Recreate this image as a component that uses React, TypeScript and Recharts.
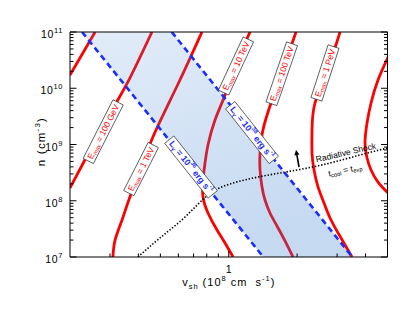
import { Area, ComposedChart, Line, ReferenceDot, ReferenceLine, XAxis, YAxis } from 'recharts'

const emax10GeV = [
  { v: 0.258, n: 1e11 },
  { v: 0.2, n: 1.72e10 },
]
const emax100GeV = [
  { v: 0.459, n: 1e11 },
  { v: 0.367, n: 1.52e10 },
  { v: 0.303, n: 3.78e9 },
  { v: 0.235, n: 5.75e8 },
  { v: 0.2, n: 1.69e8 },
]
const emax1TeV = [
  { v: 0.762, n: 1e11 },
  { v: 0.598, n: 1.19e10 },
  { v: 0.474, n: 1.67e9 },
  { v: 0.415, n: 4.32e8 },
  { v: 0.367, n: 1.17e8 },
  { v: 0.339, n: 4.55e7 },
  { v: 0.316, n: 2.01e7 },
  { v: 0.309, n: 1e7 },
]
const emax10TeV = [
  { v: 1.241, n: 1e11 },
  { v: 1.076, n: 2.7e10 },
  { v: 0.963, n: 7.59e9 },
  { v: 0.87, n: 2.73e9 },
  { v: 0.81, n: 9.8e8 },
  { v: 0.786, n: 4.69e8 },
  { v: 0.77, n: 2.34e8 },
  { v: 0.77, n: 1.17e8 },
  { v: 0.81, n: 6.06e7 },
  { v: 0.888, n: 3.02e7 },
  { v: 0.963, n: 1.77e7 },
  { v: 1.044, n: 1e7 },
]
const emax100TeV = [
  { v: 1.978, n: 1e11 },
  { v: 1.716, n: 1.95e10 },
  { v: 1.489, n: 3.78e9 },
  { v: 1.401, n: 1.48e9 },
  { v: 1.373, n: 7.06e8 },
  { v: 1.373, n: 3.52e8 },
  { v: 1.401, n: 1.76e8 },
  { v: 1.444, n: 1.03e8 },
  { v: 1.519, n: 6.06e7 },
  { v: 1.631, n: 3.56e7 },
  { v: 1.769, n: 1.93e7 },
  { v: 1.918, n: 1e7 },
]
const emax1PeV = [
  { v: 3.09, n: 1e11 },
  { v: 2.736, n: 2.29e10 },
  { v: 2.398, n: 5.47e9 },
  { v: 2.326, n: 1.81e9 },
  { v: 2.326, n: 7.06e8 },
  { v: 2.374, n: 3.52e8 },
  { v: 2.472, n: 1.76e8 },
  { v: 2.627, n: 9.12e7 },
  { v: 2.82, n: 4.55e7 },
  { v: 3.121, n: 2.18e7 },
  { v: 3.489, n: 1e7 },
]
const emax10PeV = [
  { v: 5.03, n: 3.59e10 },
  { v: 4.542, n: 1.4e10 },
  { v: 4.231, n: 5.47e9 },
  { v: 4.063, n: 2.41e9 },
  { v: 3.981, n: 1.06e9 },
  { v: 4.063, n: 5.75e8 },
  { v: 4.231, n: 3.52e8 },
  { v: 4.542, n: 2.15e8 },
  { v: 5.03, n: 1.37e8 },
]

// gamma-ray luminosity lines
const lum36 = [
  { v: 0.226, n: 1e11 },
  { v: 1.42, n: 1e7 },
]
const lum38 = [
  { v: 0.561, n: 1e11 },
  { v: 3.5, n: 1e7 },
]
// shaded strip between the two luminosity lines, [low, high] density at each v
const bandRows = [
  { v: 0.226, band: [1e11, 1e11] },
  { v: 0.561, band: [1.03e9, 1e11] },
  { v: 1.42, band: [1e7, 9.3e8] },
  { v: 3.5, band: [1e7, 1e7] },
]

// t_cool = t_exp
const coolingLine = [
  { v: 0.3985, n: 1e7 },
  { v: 0.498, n: 2.18e7 },
  { v: 0.642, n: 5.14e7 },
  { v: 0.802, n: 1.22e8 },
  { v: 1.013, n: 1.99e8 },
  { v: 1.415, n: 2.75e8 },
  { v: 1.998, n: 3.52e8 },
  { v: 2.792, n: 4.69e8 },
  { v: 3.784, n: 6.51e8 },
  { v: 5.0, n: 8.67e8 },
]

const energyLabels = [
  { text: '100 GeV', v: 0.28, n: 1.69e9 },
  { text: '1 TeV', v: 0.411, n: 3.66e8 },
  { text: '10 TeV', v: 1.076, n: 2.49e10 },
  { text: '100 TeV', v: 1.711, n: 1.81e10 },
  { text: '1 PeV', v: 2.653, n: 1.87e10 },
]
const lumLabels = [
  { exp: '36', v: 0.682, n: 3.98e8 },
  { exp: '38', v: 1.266, n: 1.63e9 },
]
const arrowFrom = { v: 2.039, n: 3.98e8 }
const arrowTo = { v: 1.978, n: 7.98e8 }
const shockTextAt = { v: 3.278, n: 7.21e8 }
const coolTextAt = { v: 3.251, n: 3.52e8 }

const xTicks = [0.3, 0.4, 0.5, 0.6, 0.7, 0.8, 0.9, 1, 2, 3, 4]
const xTickLabels = [1]
const yDecades = [1e7, 1e8, 1e9, 1e10, 1e11]
const yMinorSteps = [2, 3, 4, 5, 6, 7, 8, 9]
const yTicks = [...yDecades, ...yDecades.slice(0, 4).flatMap((d) => yMinorSteps.map((m) => m * d))]

const FONT = '"Liberation Sans", Arial, Helvetica, sans-serif'
const RED = '#ff0000'
const BLUE = '#1a2dff'
const energyAngles = [-63, -63, -65, -71, -72]
const lumAngle = 51.5

type Part = { t: string; k?: 'sub' | 'sup' }

let measureCtx: CanvasRenderingContext2D | null = null
function measureParts(parts: Part[], size: number, weight: string) {
  if (!measureCtx) measureCtx = document.createElement('canvas').getContext('2d')
  let w = 0
  for (const p of parts) {
    const fs = p.k ? size * 0.68 : size
    measureCtx!.font = `${weight} ${fs}px ${FONT}`
    w += measureCtx!.measureText(p.t).width
  }
  return w
}

function spans(parts: Part[], size: number) {
  let shift = 0
  return parts.map((p, i) => {
    const target = p.k === 'sub' ? size * 0.3 : p.k === 'sup' ? -size * 0.42 : 0
    const dy = target - shift
    shift = target
    return (
      <tspan key={i} dy={dy} fontSize={p.k ? size * 0.68 : size}>
        {p.t}
      </tspan>
    )
  })
}

function TagBox({ cx, cy, angle, parts, size, color, weight, boxed = true }: any) {
  const w = measureParts(parts, size, weight) + 6
  const h = size + 3
  return (
    <g transform={`translate(${cx},${cy}) rotate(${angle})`}>
      {boxed && <rect x={-w / 2} y={-h / 2} width={w} height={h} fill="#fff" stroke="#333" strokeWidth={0.7} />}
      <text
        x={0}
        y={0}
        textAnchor="middle"
        dominantBaseline="central"
        fill={color}
        fontWeight={weight}
        fontFamily={FONT}
        style={{ whiteSpace: 'pre' }}
      >
        {spans(parts, size)}
      </text>
    </g>
  )
}

function Arrow(p: any) {
  const { x1, y1, x2, y2 } = p
  const dx = x2 - x1
  const dy = y2 - y1
  const len = Math.hypot(dx, dy) || 1
  const ux = dx / len
  const uy = dy / len
  const bx = x2 - ux * 5
  const by = y2 - uy * 5
  return (
    <g>
      <line x1={x1} y1={y1} x2={bx} y2={by} stroke="#000" strokeWidth={1.6} />
      <path d={`M${x2},${y2} L${bx - uy * 2.6},${by + ux * 2.6} L${bx + uy * 2.6},${by - ux * 2.6} Z`} fill="#000" />
    </g>
  )
}

function BottomTick({ x, y, payload }: any) {
  const major = xTickLabels.includes(payload.value)
  return (
    <g>
      <line x1={x} x2={x} y1={y} y2={y - (major ? 6 : 3.5)} stroke="#000" />
      {major && (
        <text x={x} y={y + 16} textAnchor="middle" fontSize={10.5} fill="#000" fontFamily={FONT}>
          {payload.value}
        </text>
      )}
    </g>
  )
}

function TopTick({ x, y, payload }: any) {
  const major = xTickLabels.includes(payload.value)
  return <line x1={x} x2={x} y1={y} y2={y + (major ? 6 : 3.5)} stroke="#000" />
}

function LeftTick({ x, y, payload }: any) {
  const major = yDecades.includes(payload.value)
  const exp = Math.round(Math.log10(payload.value))
  return (
    <g>
      <line x1={x} x2={x + (major ? 6.5 : 3.5)} y1={y} y2={y} stroke="#000" />
      {major && (
        <text x={x - 7} y={y + 6} textAnchor="end" fontSize={10.5} fill="#000" fontFamily={FONT} letterSpacing={0.6}>
          10
          <tspan dy={-5} fontSize={7.5}>
            {exp}
          </tspan>
        </text>
      )}
    </g>
  )
}

function RightTick({ x, y, payload }: any) {
  const major = yDecades.includes(payload.value)
  return <line x1={x} x2={x - (major ? 6.5 : 3.5)} y1={y} y2={y} stroke="#000" />
}

function YTitle({ viewBox }: any) {
  const cx = viewBox.x + 11
  const cy = viewBox.y + viewBox.height / 2 - 3
  return (
    <text
      transform={`translate(${cx},${cy}) rotate(-90)`}
      textAnchor="middle"
      dominantBaseline="central"
      fontSize={11.5}
      fill="#000"
      fontFamily={FONT}
      letterSpacing={1.2}
      style={{ whiteSpace: 'pre' }}
    >
      n (cm
      <tspan dy={-4.5} fontSize={8}>
        -3
      </tspan>
      <tspan dy={4.5}>)</tspan>
    </text>
  )
}

function XTitle({ viewBox }: any) {
  const cx = viewBox.x + viewBox.width / 2
  const cy = viewBox.y + 29
  return (
    <text
      x={cx}
      y={cy}
      textAnchor="middle"
      fontSize={11}
      fill="#000"
      fontFamily={FONT}
      letterSpacing={1}
      style={{ whiteSpace: 'pre' }}
    >
      {spans(
        [
          { t: 'v' },
          { t: 'sh', k: 'sub' },
          { t: ' (10' },
          { t: '8', k: 'sup' },
          { t: ' cm  s' },
          { t: '-1', k: 'sup' },
          { t: ')' },
        ],
        11,
      )}
    </text>
  )
}

const redCurves = [emax10GeV, emax100GeV, emax1TeV, emax10TeV, emax100TeV, emax1PeV, emax10PeV]

export default function App() {
  return (
    <div style={{ position: 'absolute', left: 0, top: 0, width: 415, height: 321, background: '#fff' }}>
      <ComposedChart
        width={415}
        height={321}
        data={bandRows}
        margin={{ top: 31, right: 26.5, bottom: 34, left: 30 }}
        style={{ fontFamily: FONT }}
      >
        <defs>
          <linearGradient id="bandFill" x1="0" y1="0" x2="0.4" y2="1">
            <stop offset="0%" stopColor="#4a8ad6" stopOpacity={0.16} />
            <stop offset="100%" stopColor="#3f82d2" stopOpacity={0.3} />
          </linearGradient>
        </defs>
        <XAxis
          dataKey="v"
          type="number"
          scale="log"
          domain={[0.2, 5]}
          allowDataOverflow
          ticks={xTicks}
          interval={0}
          tickSize={0}
          tickMargin={0}
          tickLine={false}
          tick={BottomTick}
          height={30}
          axisLine={{ stroke: '#000' }}
          label={<XTitle />}
        />
        <XAxis
          xAxisId="t"
          orientation="top"
          type="number"
          scale="log"
          domain={[0.2, 5]}
          allowDataOverflow
          ticks={xTicks}
          interval={0}
          tickSize={0}
          tickMargin={0}
          tickLine={false}
          tick={TopTick}
          height={1}
          axisLine={{ stroke: '#000' }}
        />
        <YAxis
          type="number"
          scale="log"
          domain={[1e7, 1e11]}
          allowDataOverflow
          ticks={yTicks}
          interval={0}
          tickSize={0}
          tickMargin={0}
          tickLine={false}
          tick={LeftTick}
          width={40}
          axisLine={{ stroke: '#000' }}
          label={<YTitle />}
        />
        <YAxis
          yAxisId="r"
          orientation="right"
          type="number"
          scale="log"
          domain={[1e7, 1e11]}
          allowDataOverflow
          ticks={yTicks}
          interval={0}
          tickSize={0}
          tickMargin={0}
          tickLine={false}
          tick={RightTick}
          width={1}
          axisLine={{ stroke: '#000' }}
        />

        {redCurves.map((c, i) => (
          <Line
            key={`e${i}`}
            data={c}
            dataKey="n"
            type="natural"
            stroke={RED}
            strokeWidth={2.8}
            dot={false}
            activeDot={false}
            isAnimationActive={false}
            zIndex={400}
          />
        ))}

        <Area
          dataKey="band"
          type="linear"
          stroke="none"
          fill="url(#bandFill)"
          fillOpacity={1}
          dot={false}
          activeDot={false}
          isAnimationActive={false}
          zIndex={410}
        />

        {[lum36, lum38].map((c, i) => (
          <Line
            key={`l${i}`}
            data={c}
            dataKey="n"
            type="linear"
            stroke={BLUE}
            strokeWidth={2.6}
            strokeDasharray="6 4"
            dot={false}
            activeDot={false}
            isAnimationActive={false}
            zIndex={420}
          />
        ))}

        <Line
          data={coolingLine}
          dataKey="n"
          type="natural"
          stroke="#000"
          strokeWidth={1.6}
          strokeDasharray="1.4 1.8"
          dot={false}
          activeDot={false}
          isAnimationActive={false}
          zIndex={420}
        />

        <ReferenceLine
          segment={[
            { x: arrowFrom.v, y: arrowFrom.n },
            { x: arrowTo.v, y: arrowTo.n },
          ]}
          ifOverflow="visible"
          shape={Arrow}
          zIndex={1500}
        />

        {energyLabels.map((l, i) => (
          <ReferenceDot
            key={`el${i}`}
            x={l.v}
            y={l.n}
            r={1}
            ifOverflow="visible"
            zIndex={1500}
            shape={(p: any) => (
              <TagBox
                cx={p.cx}
                cy={p.cy}
                angle={energyAngles[i]}
                parts={[{ t: 'E' }, { t: 'max', k: 'sub' }, { t: ' = ' + l.text }]}
                size={8.5}
                color={RED}
                weight="normal"
              />
            )}
          />
        ))}

        {lumLabels.map((l, i) => (
          <ReferenceDot
            key={`ll${i}`}
            x={l.v}
            y={l.n}
            r={1}
            ifOverflow="visible"
            zIndex={1500}
            shape={(p: any) => (
              <TagBox
                cx={p.cx}
                cy={p.cy}
                angle={lumAngle}
                parts={[
                  { t: 'L' },
                  { t: 'γ', k: 'sub' },
                  { t: ' = 10' },
                  { t: l.exp, k: 'sup' },
                  { t: ' erg s' },
                  { t: '-1', k: 'sup' },
                ]}
                size={8.8}
                color={BLUE}
                weight="bold"
              />
            )}
          />
        ))}

        <ReferenceDot
          x={shockTextAt.v}
          y={shockTextAt.n}
          r={1}
          ifOverflow="visible"
          zIndex={1500}
          shape={(p: any) => (
            <TagBox
              cx={p.cx}
              cy={p.cy}
              angle={-13}
              parts={[{ t: 'Radiative Shock' }]}
              size={8.5}
              color="#000"
              weight="normal"
              boxed={false}
            />
          )}
        />
        <ReferenceDot
          x={coolTextAt.v}
          y={coolTextAt.n}
          r={1}
          ifOverflow="visible"
          zIndex={1500}
          shape={(p: any) => (
            <TagBox
              cx={p.cx}
              cy={p.cy}
              angle={-12}
              parts={[{ t: 't' }, { t: 'cool', k: 'sub' }, { t: ' = t' }, { t: 'exp', k: 'sub' }]}
              size={8.5}
              color="#000"
              weight="normal"
              boxed={false}
            />
          )}
        />
      </ComposedChart>
    </div>
  )
}
